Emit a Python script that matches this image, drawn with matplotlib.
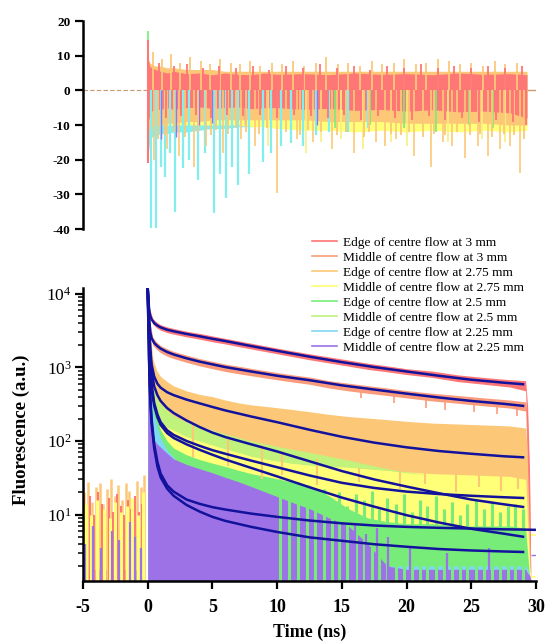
import numpy as np
import matplotlib
matplotlib.use("Agg")
import matplotlib.pyplot as plt
from matplotlib.ticker import LogLocator, NullFormatter

plt.rcParams['font.family'] = ['Liberation Serif', 'DejaVu Serif']
plt.rcParams['mathtext.fontset'] = 'custom'
plt.rcParams['mathtext.rm'] = 'Liberation Serif:bold'
plt.rcParams['mathtext.bf'] = 'Liberation Serif:bold'
plt.rcParams['mathtext.default'] = 'rm'
plt.rcParams['axes.unicode_minus'] = False

# ---------------- data ----------------
labels = ["Edge of centre flow at 3 mm", "Middle of centre flow at 3 mm",
          "Edge of centre flow at 2.75 mm", "Middle of centre flow at 2.75 mm",
          "Edge of centre flow at 2.5 mm", "Middle of centre flow at 2.5 mm",
          "Edge of centre flow at 2.25 mm", "Middle of centre flow at 2.25 mm"]
colors = ["#ff7676", "#fa9c7c", "#fcc878", "#ffff78",
          "#78ec78", "#c0f27c", "#7ed8f2", "#9d72e6"]
cyan_res = "#82eeee"
fit_color = "#12129c"

y_floor = 1.3

# fitted decays
t_fit = [0, 0.05, 0.1, 0.15, 0.2, 0.3, 0.5, 0.75, 1, 1.5, 2, 3, 4, 5, 6, 8, 10,
         12.5, 15, 17.5, 20, 22.5, 25, 27.5, 29]
fit1 = [12000, 8500, 6500, 5600, 5000, 4500, 4000, 3700, 3500, 3250, 3100, 2850, 2650, 2450,
        2280, 1950, 1680, 1400, 1180, 1010, 880, 770, 680, 620, 590]
fit2 = [12000, 7500, 5000, 3800, 3000, 2500, 2150, 1950, 1800, 1620, 1500, 1330, 1200, 1100,
        1010, 880, 770, 670, 570, 500, 440, 390, 350, 320, 300]
fit3 = [12000, 6500, 4000, 2700, 1800, 1100, 750, 600, 530, 460, 420, 365, 325, 290, 260,
        215, 180, 142, 114, 95, 82, 73, 67, 62, 60]
fit4 = [12000, 6000, 3500, 2300, 1500, 900, 550, 420, 350, 280, 240, 190, 155, 130, 113,
        90, 72, 53, 39, 30, 24, 19.5, 16, 13.8, 12.7]
fit5 = [12000, 5500, 3000, 1800, 1100, 600, 330, 230, 180, 140, 121, 100, 86, 75, 67, 54,
        44, 34, 27, 23, 20.5, 19, 18, 17.2, 16.8]
fit6 = [12000, 5000, 2500, 1500, 900, 500, 300, 210, 165, 128, 110, 90, 76, 65, 56, 43, 33,
        23.5, 17, 12.8, 9.8, 7.8, 6.4, 5.5, 5.0]
fit7 = [12000, 4000, 1500, 700, 400, 200, 90, 52, 36, 25, 20.5, 16, 14, 12.6, 11.7, 10.3,
        9.3, 8.3, 7.6, 7.1, 6.8, 6.6, 6.45, 6.3, 6.25]
fit7_tail_t = [29.9]
fit7_tail_v = [6.2]
fit8 = [12000, 3800, 1300, 600, 350, 170, 80, 45, 32, 22.5, 18, 13.5, 11, 9.3, 8.2, 6.8,
        5.8, 4.9, 4.4, 3.95, 3.65, 3.4, 3.25, 3.15, 3.1]

# measured decays: upper / lower envelopes of the noisy traces
t_band = [0, 0.15, 0.4, 0.7, 1, 1.5, 2, 3, 4, 5, 6, 7, 8, 9.5, 11, 12.5, 14, 15.5, 17,
          18.5, 20, 22, 24, 26, 28, 29.2, 29.35, 29.5, 29.6]
hi1 = [12500, 6100, 4600, 4100, 3800, 3550, 3380, 3100, 2900, 2680, 2480, 2300, 2130, 1900,
       1700, 1530, 1390, 1260, 1140, 1050, 960, 890, 790, 730, 680, 660, 300, 40, 1.3]
lo1 = [10000, 5100, 3850, 3430, 3200, 2970, 2830, 2600, 2420, 2230, 2080, 1920, 1780, 1590,
       1420, 1270, 1150, 1040, 940, 870, 800, 730, 640, 590, 540, 480, 60, 5, 1.3]
hi2 = [12500, 4200, 2550, 2200, 1980, 1790, 1650, 1470, 1320, 1210, 1110, 1040, 970, 880,
       800, 740, 660, 610, 565, 525, 485, 445, 415, 385, 360, 340, 200, 25, 1.3]
lo2 = [9000, 3300, 2000, 1750, 1580, 1420, 1320, 1170, 1050, 960, 880, 820, 770, 700, 640,
       590, 525, 480, 445, 415, 385, 350, 325, 300, 280, 255, 40, 4, 1.3]
hi3 = [12000, 3500, 1300, 900, 750, 640, 560, 480, 430, 400, 360, 330, 310, 290, 270, 250,
       230, 215, 205, 195, 185, 175, 170, 165, 160, 150, 60, 10, 1.3]
lo3 = [8000, 1500, 500, 330, 280, 240, 210, 180, 160, 140, 120, 105, 95, 80, 70, 60, 52, 45,
       42, 40, 38, 36, 35, 34, 33, 30, 8, 2, 1.3]
hi4 = [3000, 1500, 700, 400, 300, 220, 170, 140, 120, 105, 92, 84, 76, 68, 63, 60, 58, 55,
       52, 50, 47, 44, 40, 37, 34, 32, 8, 2, 1.3]
hi5 = [2000, 900, 350, 200, 140, 100, 80, 65, 56, 50, 45, 40, 36, 32, 28, 25, 18, 12, 9,
       8, 7.5, 7.5, 7, 7, 7, 6.5, 3, 1.5, 1.3]
hi6 = [4000, 1500, 600, 380, 320, 260, 220, 180, 155, 140, 125, 112, 100, 88, 78, 70, 62, 55,
       48, 42, 38, 34, 31, 28, 26, 24, 6, 1.5, 1.3]
lo6 = [2000, 800, 330, 210, 180, 155, 140, 115, 100, 88, 78, 70, 62, 55, 50, 47, 45, 44, 42,
       40, 37, 34, 31, 28, 26, 24, 6, 1.5, 1.3]
hi7 = [8000, 1200, 260, 160, 110, 75, 60, 35, 22, 14, 11, 9, 8, 7, 6, 5, 4.5, 4, 2, 2, 2, 2,
       2, 2, 2, 2, 1.8, 1.5, 1.3]
hi8 = [5000, 500, 110, 92, 82, 68, 57, 48, 42, 37, 32, 28, 24, 19, 15, 12, 9, 7, 4, 2,
       1.8, 1.8, 1.8, 1.8, 1.8, 1.8, 1.6, 1.5, 1.3]

# isolated spikes in the measured decays
orange_spk_t = [3.5, 6.2, 8.8, 10.4, 13.1, 16.3, 19.5, 21.4, 23.8, 25.6, 27.3, 28.6]
orange_spk_v = [60, 45, 30, 35, 25, 28, 22, 26, 20, 24, 21, 22]
salmon_spk_t = [16.5, 19.0, 21.5, 23.0, 25.2, 27.0, 28.5]
salmon_spk_v = [380, 330, 280, 260, 250, 230, 220]
green_spk_t = [10.2, 10.9, 11.6, 12.3, 12.9, 13.6, 14.2, 14.8, 15.4, 16.1, 16.7, 17.3, 17.9,
               18.5, 19.2, 19.8, 20.4, 21.0, 21.6, 22.3, 22.9, 23.5, 24.1, 24.7, 25.4, 26.0,
               26.6, 27.2, 27.8, 28.4, 29.0]
green_spk_v = [30, 26, 28, 24, 18, 22, 15, 20, 13, 19, 16, 21, 12, 17, 14, 19, 11, 16, 13, 18,
               12, 15, 10, 14, 16, 12, 15, 11, 13, 14, 12]
purple_spk_t = [14.6, 15.2, 16.0, 16.9, 17.7, 18.6, 20.3, 23.1, 26.4]
purple_spk_v = [7, 6, 7.5, 5.5, 6.5, 5, 3.5, 3, 3.5]
late_t = [29.6, 30.0]
late_yellow_v = [5.2, 1.4]
late_purple_v = [2.8]

# before the excitation pulse (t < 0)
pre_t = [-5, -0.2]
pre_yellow_top = 7.0
pre_purple_top = 1.75
pre_orange_t = [-4.9, -4.6, -4.3, -4.0, -3.7, -3.45, -3.15, -2.85, -2.55, -2.3, -2.0, -1.7,
                -1.45, -1.15, -0.85, -0.55, -0.3]
pre_orange_v = [20, 28, 15, 24, 27, 14, 22, 30, 18, 25, 16, 27, 21, 15, 29, 24, 35]
pre_red_t = [-4.75, -4.45, -4.15, -3.85, -3.55, -3.3, -3.0, -2.7, -2.4, -2.1, -1.85, -1.55,
             -1.3, -1.0, -0.7, -0.45]
pre_red_v = [12, 18, 10, 20, 14, 9, 17, 11, 19, 13, 10, 16, 12, 18, 11, 14]
pre_yellow_t = [-4.8, -4.35, -3.9, -3.4, -2.95, -2.5, -2.05, -1.6, -1.2, -0.75, -0.4]
pre_yellow_v = [14, 10, 16, 12, 9, 15, 11, 13, 17, 10, 20]
pre_purple_t = [-4.85, -4.2, -3.6, -2.75, -2.2, -1.4, -0.95, -0.5]
pre_purple_v = [4, 7, 3.5, 6, 4.5, 8, 5, 3.5]

# residuals
t_res = [0, 0.05, 0.15, 0.3, 0.6, 1, 1.5, 2, 3, 4, 5, 6, 7, 8, 9, 10, 12, 14, 16, 18, 20, 22,
         24, 26, 28, 29.3]
red_hi = [14, 9, 7, 6.5, 6, 5.5, 5, 5.5, 4.8, 5, 4.5, 5, 4.6, 4.5, 5, 4.6, 4.8, 4.5, 5, 4.6,
          4.8, 4.5, 5, 4.6, 4.8, 4.5]
red_lo = [-21, -9, -7, -6, -5.5, -5.5, -5, -5.5, -5, -4.8, -5.2, -5, -4.8, -5.3, -5, -5,
          -5.5, -5.2, -5.8, -5.5, -6, -5.6, -6.2, -6, -6.5, -8]
orange_hi = [10, 9, 8, 7.5, 7, 7, 6.5, 6.5, 6, 6, 6, 5.5, 5.5, 5.5, 5.5, 5.5, 5.5, 5.5, 5.5,
             5.5, 5.5, 5.5, 5.5, 5.5, 5.5, 5.5]
orange_lo = [-12, -12, -11, -10.5, -10, -10, -9.5, -9.5, -9, -9, -8.5, -8.5, -8.5, -8.5, -8.5,
             -8.5, -8.5, -9, -9, -9, -9.5, -9.5, -9.5, -9.5, -10, -10]
cyan_hi = [6, 8, 7, 6.5, 6, 6, 5.5, 5.5, 5.5, 5, 5, 5, 5, 5, 5, 5, 5, 5, 5, 5, 5, 5, 5, 5, 5, 5]
cyan_lo = [-10, -18, -15, -13.5, -13, -12.5, -12.5, -12, -12, -11.5, -11, -11, -10.5, -10.5,
           -10, -10, -9.5, -9, -8.5, -8, -8, -8, -8, -8, -8, -8]
yellow_hi = [6, 7, 6, 5.5, 5.5, 5.5, 5, 5, 5, 5, 5, 5, 5, 5, 5, 5, 5, 5, 5, 5, 5, 5, 5, 5, 5, 5]
yellow_lo = [-8, -11, -10, -10, -10, -10, -10, -10, -10, -10, -10, -10, -10, -10.5, -10.5,
             -11, -11.5, -11.5, -12, -11.5, -12, -11.5, -12, -11.5, -12, -11.5]
cyan_spk_t = [0.28, 0.67, 1.0, 1.3, 1.7, 2.08, 2.7, 3.2, 3.9, 4.4, 5.15, 5.6, 6.05, 6.5, 6.95,
              7.8, 8.87, 9.5, 10.3, 11.05, 12.0, 13.0, 14.0, 15.5, 17.0]
cyan_spk_v = [-39.7, -39.7, -22, -25, -18, -35, -22.4, -20, -26, -18, -35.4, -24, -31, -22,
              -27.3, -24, -20.6, -18, -16, -15.2, -16, -13, -12, -12, -11]
orange_rspk_t = [0.5, 1.5, 2.4, 3.6, 4.5, 5.8, 7.2, 8.3, 10.0, 11.5, 12.8, 14.2, 15.9, 17.6,
                 18.3, 19.2, 20.6, 21.9, 22.8, 23.5, 24.5, 25.5, 26.3, 27.2, 28.0, 28.8]
orange_rspk_v = [-20, -17, -19, -22, -16, -18, -14, -16, -29.7, -14, -15, -17, -18, -15, -16,
                 -14, -19, -22, -15, -16, -19.6, -16, -19, -17, -16, -23.9]
orange_up_t = [0.4, 1.1, 1.8, 2.5, 3.3, 4.1, 4.8, 5.6, 6.4, 7.1, 7.9, 8.7, 9.6, 10.4, 11.2,
               12.1, 13.0, 13.8, 14.7, 15.5, 16.4, 17.3, 18.1, 19.0, 19.8, 20.7, 21.5, 22.4,
               23.3, 24.1, 25.0, 25.9, 26.8, 27.6, 28.5]
orange_up_v = [11, 9, 10.5, 8, 9.5, 8.5, 7.5, 9, 8, 7.5, 8.5, 7, 8, 7.5, 8.5, 7, 8, 9.5, 7.5,
               8, 7, 8.5, 7.5, 8, 9, 7.5, 8, 9, 8.5, 7.5, 8, 7, 8.5, 7.5, 8]
orange_dn_t = [0.8, 1.3, 2.0, 2.9, 3.9, 4.9, 5.3, 6.2, 6.8, 7.6, 8.6, 9.2, 10.7, 11.8, 12.4,
               13.4, 14.6, 15.3, 16.7, 17.1, 18.8, 19.6, 20.2, 21.3, 22.1, 23.0, 23.9, 24.9,
               25.7, 26.6, 27.5, 28.3, 29.1]
orange_dn_v = [-14, -13, -12, -13.5, -12, -13, -11.5, -12.5, -11, -12, -12.5, -11, -12, -13,
               -11.5, -12, -13, -12, -13.5, -12, -12.5, -13, -12, -13.5, -12.5, -13, -12, -13,
               -12.5, -13.5, -12.5, -13, -14]
red_up_t = [0.9, 2.0, 3.0, 4.3, 5.5, 6.8, 8.1, 9.4, 10.7, 12.0, 13.3, 14.6, 15.9, 17.2, 18.5,
            19.8, 21.1, 22.4, 23.7, 25.0, 26.3, 27.6, 28.9]
red_up_v = [8, 7, 7.5, 6.5, 7, 6.5, 7, 6, 7, 6.5, 7.5, 6.5, 7, 6, 7, 6.5, 7.5, 6.5, 7, 6.5,
            7, 6.5, 7]
red_dn_t = [1.4, 2.6, 3.7, 4.9, 6.1, 7.4, 8.7, 10.0, 11.3, 12.6, 13.9, 15.2, 16.5, 17.8,
            19.1, 20.4, 21.7, 23.0, 24.3, 25.6, 26.9, 28.2, 29.2]
red_dn_v = [-8, -7.5, -7, -8, -7, -7.5, -7, -8, -7, -7.5, -8, -7, -8.5, -7.5, -8, -8.5, -7.5,
            -8.5, -8, -9, -8.5, -9, -10]
yellow_rspk_t = [9.3, 12.2, 13.4, 14.9, 16.6, 18.8, 20.0, 23.2, 25.8, 27.6]
yellow_rspk_v = [-16, -18, -15, -14, -17, -15, -16, -15, -14, -15]
green_rspk_t = [0.03, 14.5, 15.3, 17.2, 19.8, 22.3, 24.8, 26.7]
green_rspk_v = [17, -11, -12, -10, -11, -12, -10, -11]
purple_rspk_t = [1.0, 2.2, 4.0, 5.0, 7.5, 13.1]
purple_rspk_v = [-14, -13.5, -10, -9.5, -10, -10]
red_rspk_t = [0.02, 0.04]
red_rspk_v = [14.5, -21]

# ---------------- figure ----------------
W, H = 547, 641
fig = plt.figure(figsize=(W / 100, H / 100), dpi=100)
ax1 = fig.add_axes([83 / W, 1 - 229 / H, 453 / W, 208 / H])
ax2 = fig.add_axes([83 / W, 1 - 581 / H, 453 / W, 293 / H])

red, salmon, orange, yellow, green, lgreen, blue, purple = colors

# ---------- residuals ----------
tr = np.array(t_res)
ax1.plot([-5, 0], [0, 0], color="#c89a70", lw=0.8, ls=(0, (4, 2)))
ax1.plot([29.4, 30], [0, 0], color="#c89a70", lw=1.0)
ax1.fill_between(tr, cyan_lo, cyan_hi, color=cyan_res, lw=0)
ax1.vlines(cyan_spk_t, cyan_spk_v, 0, color=cyan_res, lw=1.6)
ax1.fill_between(tr, yellow_lo, yellow_hi, color=yellow, lw=0)
ax1.vlines(yellow_rspk_t, yellow_rspk_v, 0, color="#f8f080", lw=1.2)
ax1.vlines(green_rspk_t, green_rspk_v, 0, color=green, lw=1.2)
ax1.vlines(purple_rspk_t, purple_rspk_v, 0, color=purple, lw=1.0)
ax1.fill_between(tr, orange_lo, orange_hi, color=orange, lw=0)
ax1.vlines(orange_rspk_t, orange_rspk_v, 0, color=orange, lw=1.2)
ax1.vlines(orange_up_t, 0, orange_up_v, color=orange, lw=1.3)
ax1.vlines(orange_dn_t, orange_dn_v, 0, color=orange, lw=1.3)
ax1.fill_between(tr, red_lo, red_hi, color=red, lw=0)
ax1.vlines(red_up_t, 0, red_up_v, color=red, lw=1.3)
ax1.vlines(red_dn_t, red_dn_v, 0, color=red, lw=1.3)
ax1.vlines(red_rspk_t, red_rspk_v, 0, color=red, lw=1.5)

ax1.set_xlim(-5, 30)
ax1.set_ylim(-40, 20)
ax1.set_yticks([20, 10, 0, -10, -20, -30, -40])
ax1.set_xticks([])
for s in ["top", "right", "bottom"]:
    ax1.spines[s].set_visible(False)
ax1.spines["left"].set_linewidth(1.8)
ax1.tick_params(axis="y", direction="out", length=6, width=1.6, labelsize=9.5, pad=3)
for lab in ax1.get_yticklabels():
    lab.set_fontweight("bold")

# ---------- decays ----------
tb = np.array(t_band)
ax2.set_yscale("log")
lowest = y_floor * 0.9

# before t = 0
ax2.vlines(pre_orange_t, lowest, pre_orange_v, color=orange, lw=1.8)
ax2.vlines(pre_red_t, lowest, pre_red_v, color=red, lw=1.4)
ax2.fill_between(pre_t, lowest, pre_yellow_top, color=yellow, lw=0)
ax2.vlines(pre_yellow_t, lowest, pre_yellow_v, color=yellow, lw=2.2)
ax2.vlines(pre_purple_t, lowest, pre_purple_v, color=purple, lw=1.6)
ax2.fill_between(pre_t, lowest, pre_purple_top, color=purple, lw=0)

# after t = 0
ax2.fill_between(tb, lowest, hi4, color=yellow, lw=0)
ax2.fill_between(tb, lo3, hi3, color=orange, lw=0)
ax2.vlines(orange_spk_t, orange_spk_v, np.interp(orange_spk_t, tb, lo3), color=orange, lw=1.5)
ax2.fill_between(tb, lo6, hi6, color=lgreen, lw=0)
ax2.fill_between(tb, lowest, hi5, color=green, lw=0)
ax2.vlines(green_spk_t, lowest, green_spk_v, color=green, lw=2.2)
ax2.fill_between(tb, lowest, hi7, color=blue, lw=0)
ax2.fill_between(tb, lowest, hi8, color=purple, lw=0)
ax2.vlines(purple_spk_t, lowest, purple_spk_v, color=purple, lw=1.6)
ax2.fill_between(tb, lo2, hi2, color=salmon, lw=0)
ax2.vlines(salmon_spk_t, salmon_spk_v, np.interp(salmon_spk_t, tb, lo2), color=salmon, lw=1.2)
ax2.fill_between(tb, lo1, hi1, color=red, lw=0)
ax2.hlines(late_yellow_v, late_t[0], late_t[1], color=yellow, lw=1.2)
ax2.hlines(late_purple_v, late_t[0], late_t[1], color=purple, lw=1.0)

# fits
fits = [fit1, fit2, fit3, fit4, fit5, fit6, fit7, fit8]
for i, f in enumerate(fits):
    tt = list(t_fit)
    ff = list(f)
    if i == 6:
        tt += fit7_tail_t
        ff += fit7_tail_v
    ax2.plot(tt, ff, color=fit_color, lw=1.8, zorder=5)

ax2.set_xlim(-5, 30)
ax2.set_ylim(1.25, 1.2e4)
ax2.set_xticks([-5, 0, 5, 10, 15, 20, 25, 30])
ax2.yaxis.set_major_locator(LogLocator(base=10, numticks=10))
ax2.yaxis.set_minor_locator(LogLocator(base=10, subs=np.arange(2, 10), numticks=20))
ax2.yaxis.set_minor_formatter(NullFormatter())
for s in ["top", "right"]:
    ax2.spines[s].set_visible(False)
for s in ["left", "bottom"]:
    ax2.spines[s].set_linewidth(1.8)
ax2.tick_params(axis="x", which="major", direction="out", length=6, width=1.6,
                labelsize=13, pad=7)
ax2.tick_params(axis="y", which="major", direction="out", length=6, width=1.6,
                labelsize=12.5, pad=2)
ax2.tick_params(axis="y", which="minor", direction="out", length=3.5, width=1.1)
for lab in ax2.get_xticklabels():
    lab.set_fontweight("bold")
ax2.set_xlabel("Time (ns)", fontsize=13, fontweight="bold")
ax2.set_ylabel("Fluorescence (a.u.)", fontsize=13.5, fontweight="bold")
ax2.xaxis.set_label_coords(0.501, -0.145)
ax2.yaxis.set_label_coords(-0.117, 0.515)

# legend
handles = [plt.Line2D([], [], color=c, lw=1.2) for c in colors]
fig.legend(handles, labels, loc="upper left", bbox_to_anchor=(312 / W, 1 - 236.5 / H),
           frameon=False, fontsize=9.6, handlelength=1.85, handletextpad=0.45,
           labelspacing=0.2, borderpad=0, borderaxespad=0)

fig.savefig("out.png", dpi=100)
